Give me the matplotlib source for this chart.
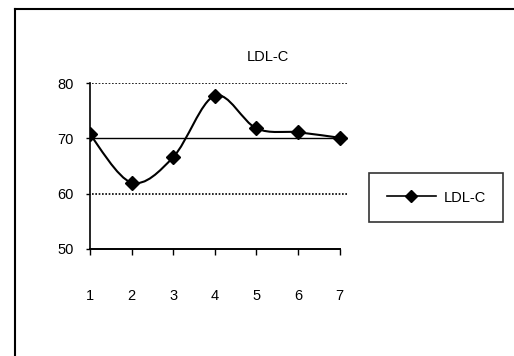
import matplotlib.pyplot as plt
import numpy as np
from matplotlib.path import Path
from matplotlib.patches import PathPatch
from matplotlib.lines import Line2D

plt.rcParams['font.family'] = ['Liberation Sans', 'DejaVu Sans']

visits = [1, 2, 3, 4, 5, 6, 7]
ldl_c = [70.7, 62.0, 66.6, 77.7, 71.8, 71.1, 70.1]
y_ticks = [50, 60, 70, 80]
series_name = "LDL-C"


def smooth_path(xs, ys):
    # cubic bezier through every point, tangents from neighbours (Excel-style smoothing)
    pts = np.column_stack([xs, ys]).astype(float)
    padded = np.vstack([pts[0], pts, pts[-1]])
    verts = [pts[0]]
    codes = [Path.MOVETO]
    for i in range(len(pts) - 1):
        p0, p1, p2, p3 = padded[i], padded[i + 1], padded[i + 2], padded[i + 3]
        c1 = p1 + (p2 - p0) / 6.0
        c2 = p2 - (p3 - p1) / 6.0
        verts += [c1, c2, p2]
        codes += [Path.CURVE4] * 3
    return Path(verts, codes)


fig = plt.figure(figsize=(5.14, 3.56), dpi=100)
ax = fig.add_axes([90 / 514, 1 - 249 / 356, 258 / 514, 166 / 356])

ax.set_xlim(1, 7.2)
ax.set_ylim(50, 80)

# dotted gridlines at 60 / 80, solid reference at 70
for yv in (60, 80):
    ax.plot([1.04, 7.2], [yv, yv], color="black", lw=1.2, ls=(0, (1, 1)), zorder=1)
ax.plot([1, 7.2], [70, 70], color="black", lw=1.0, zorder=1)

ax.add_patch(PathPatch(smooth_path(visits, ldl_c), facecolor="none",
                       edgecolor="black", lw=1.5, zorder=2))
ax.plot(visits, ldl_c, ls="none", marker="D", ms=7, color="black", zorder=3)

for s in ("top", "right"):
    ax.spines[s].set_visible(False)
ax.spines["left"].set_linewidth(1.2)
ax.spines["bottom"].set_linewidth(1.4)
ax.spines["bottom"].set_bounds(1, 7)

ax.set_yticks(y_ticks)
ax.set_xticks(visits)
ax.tick_params(axis="y", direction="out", length=3, width=1, labelsize=10.5, pad=9)
ax.tick_params(axis="x", direction="out", length=4, width=1, labelsize=10.5, pad=25)

ax.text(5.28, 84.7, series_name, ha="center", va="center", fontsize=10.5)

handle = Line2D([], [], color="black", lw=1.2, marker="D", ms=6.5, markerfacecolor="black")
leg = fig.legend([handle], [series_name], loc="upper left",
                 bbox_to_anchor=(369 / 514, 1 - 173 / 356), fontsize=10.5,
                 frameon=True, fancybox=False, edgecolor="black", handlelength=3.4,
                 borderpad=1.2, handletextpad=0.5, borderaxespad=0)
leg.get_frame().set_linewidth(1.2)

# outer chart frame, only top and left edges visible
fig.add_artist(Line2D([15 / 514, 15 / 514], [0, 1 - 9 / 356], transform=fig.transFigure,
                      color="black", lw=1.5))
fig.add_artist(Line2D([15 / 514, 1], [1 - 9 / 356, 1 - 9 / 356], transform=fig.transFigure,
                      color="black", lw=1.5))

fig.savefig("out.png", dpi=100)
